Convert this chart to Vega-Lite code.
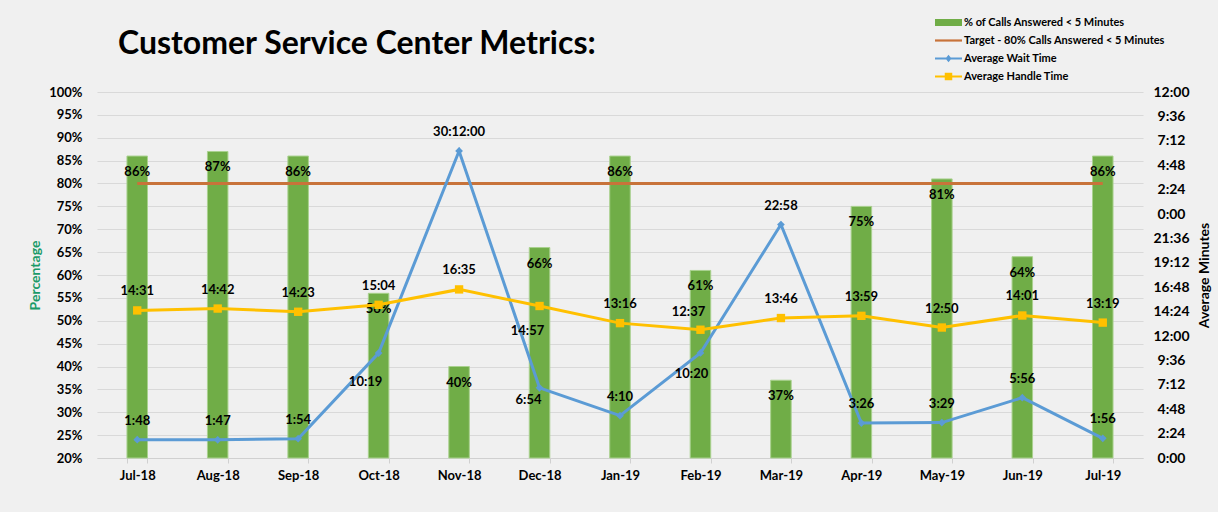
{
  "$schema": "https://vega.github.io/schema/vega-lite/v6.json",
  "width": 1046,
  "height": 366,
  "autosize": "none",
  "padding": {"left": 97, "top": 92, "right": 75, "bottom": 54},
  "background": "#f0f0f0",
  "title": {
    "text": "Customer Service Center Metrics:",
    "anchor": "start",
    "frame": "group",
    "dx": 21,
    "dy": 107,
    "offset": 38,
    "baseline": "alphabetic",
    "font": "Lato",
    "fontSize": 32,
    "fontWeight": "bold",
    "color": "#000000"
  },
  "config": {
    "view": {"stroke": null},
    "font": "Lato",
    "text": {"font": "Lato", "fontWeight": "bold", "fontSize": 13, "color": "#000000"}
  },
  "data": {
    "values": [
      {"month": "Jul-18", "pct": 0.86, "target": 0.8, "wait": 1.8, "waitLabel": "1:48", "handle": 14.5167, "handleLabel": "14:31"},
      {"month": "Aug-18", "pct": 0.87, "target": 0.8, "wait": 1.7833, "waitLabel": "1:47", "handle": 14.7, "handleLabel": "14:42"},
      {"month": "Sep-18", "pct": 0.86, "target": 0.8, "wait": 1.9, "waitLabel": "1:54", "handle": 14.3833, "handleLabel": "14:23"},
      {"month": "Oct-18", "pct": 0.56, "target": 0.8, "wait": 10.3167, "waitLabel": "10:19", "handle": 15.0667, "handleLabel": "15:04"},
      {"month": "Nov-18", "pct": 0.40, "target": 0.8, "wait": 30.2, "waitLabel": "30:12:00", "handle": 16.5833, "handleLabel": "16:35"},
      {"month": "Dec-18", "pct": 0.66, "target": 0.8, "wait": 6.9, "waitLabel": "6:54", "handle": 14.95, "handleLabel": "14:57"},
      {"month": "Jan-19", "pct": 0.86, "target": 0.8, "wait": 4.1667, "waitLabel": "4:10", "handle": 13.2667, "handleLabel": "13:16"},
      {"month": "Feb-19", "pct": 0.61, "target": 0.8, "wait": 10.3333, "waitLabel": "10:20", "handle": 12.6167, "handleLabel": "12:37"},
      {"month": "Mar-19", "pct": 0.37, "target": 0.8, "wait": 22.9667, "waitLabel": "22:58", "handle": 13.7667, "handleLabel": "13:46"},
      {"month": "Apr-19", "pct": 0.75, "target": 0.8, "wait": 3.4333, "waitLabel": "3:26", "handle": 13.9833, "handleLabel": "13:59"},
      {"month": "May-19", "pct": 0.81, "target": 0.8, "wait": 3.4833, "waitLabel": "3:29", "handle": 12.8333, "handleLabel": "12:50"},
      {"month": "Jun-19", "pct": 0.64, "target": 0.8, "wait": 5.9333, "waitLabel": "5:56", "handle": 14.0167, "handleLabel": "14:01"},
      {"month": "Jul-19", "pct": 0.86, "target": 0.8, "wait": 1.9333, "waitLabel": "1:56", "handle": 13.3167, "handleLabel": "13:19"}
    ]
  },
  "encoding": {
    "x": {
      "field": "month",
      "type": "ordinal",
      "sort": null,
      "scale": {"paddingInner": 0.745, "paddingOuter": 0.3725},
      "axis": {
        "title": null,
        "labelAngle": 0,
        "labelFont": "Lato",
        "labelFontWeight": "bold",
        "labelFontSize": 13,
        "labelColor": "#000000",
        "labelPadding": 6,
        "tickBand": "extent",
        "tickSize": 5,
        "tickColor": "#d0d0d0",
        "domainColor": "#d0d0d0",
        "grid": false
      }
    }
  },
  "layer": [
    {
      "encoding": {
        "y": {
          "type": "quantitative",
          "scale": {"domain": [0.2, 1], "nice": false, "zero": false},
          "axis": {
            "orient": "left",
            "title": "Percentage",
            "titleColor": "#1a9a68",
            "titleFont": "Lato",
            "titleFontWeight": "bold",
            "titleFontSize": 14,
            "titlePadding": 6,
            "values": [0.2, 0.25, 0.3, 0.35, 0.4, 0.45, 0.5, 0.55, 0.6, 0.65, 0.7, 0.75, 0.8, 0.85, 0.9, 0.95, 1],
            "format": ".0%",
            "labelFont": "Lato",
            "labelFontWeight": "bold",
            "labelFontSize": 13,
            "labelColor": "#000000",
            "labelPadding": 15,
            "grid": true,
            "gridColor": "#d9d9d9",
            "domain": false,
            "ticks": false
          }
        }
      },
      "layer": [
        {
          "mark": {"type": "bar", "stroke": "#a9d18e", "strokeWidth": 1},
          "encoding": {
            "y": {"field": "pct"},
            "y2": {"datum": 0.2},
            "color": {
              "datum": "% of Calls Answered < 5 Minutes",
              "scale": {
                "domain": ["% of Calls Answered < 5 Minutes", "Target - 80% Calls Answered < 5 Minutes", "Average Wait Time", "Average Handle Time"],
                "range": ["#70ad47", "#c8733a", "#5b9bd5", "#ffc000"]
              },
              "legend": {
                "title": null,
                "orient": "none",
                "legendX": 846,
                "legendY": -75,
                "padding": 0,
                "rowPadding": 6,
                "symbolSize": 100,
                "labelOffset": 10,
                "labelLimit": 400,
                "labelFont": "Lato",
                "labelFontWeight": "bold",
                "labelFontSize": 11,
                "labelColor": "#000000",
                "symbolType": {"expr": "datum.index === 0 ? 'M-2.7,-0.7H2.7V0.7H-2.7Z' : datum.index === 1 ? 'M-2.7,-0.22H2.7V0.22H-2.7Z' : datum.index === 2 ? 'M-2.7,-0.2H2.7V0.2H-2.7Z M0,-0.75L0.6,0L0,0.75L-0.6,0Z' : 'M-2.7,-0.2H2.7V0.2H-2.7Z M-0.75,-0.75H0.75V0.75H-0.75Z'"},
                "symbolStrokeWidth": 0,
                "symbolOpacity": 1
              }
            }
          }
        },
        {
          "mark": {"type": "line", "strokeWidth": 3},
          "encoding": {
            "y": {"field": "target"},
            "color": {"datum": "Target - 80% Calls Answered < 5 Minutes"}
          }
        },
        {
          "mark": {"type": "text", "dy": 16, "baseline": "middle"},
          "encoding": {
            "y": {"field": "pct"},
            "text": {"field": "pct", "type": "quantitative", "format": ".0%"}
          }
        }
      ]
    },
    {
      "encoding": {
        "y": {
          "type": "quantitative",
          "scale": {"domain": [0, 36], "nice": false, "zero": true},
          "axis": {
            "orient": "right",
            "title": "Average Minutes",
            "titleAngle": 270,
            "titleColor": "#000000",
            "titleFont": "Lato",
            "titleFontWeight": "bold",
            "titleFontSize": 14,
            "titlePadding": 22,
            "values": [0, 2.4, 4.8, 7.2, 9.6, 12, 14.4, 16.8, 19.2, 21.6, 24, 26.4, 28.8, 31.2, 33.6, 36],
            "labelExpr": "floor((round(datum.value*60) % 1440)/60) + ':' + ((round(datum.value*60) % 60) < 10 ? '0' : '') + (round(datum.value*60) % 60)",
            "labelFont": "Lato",
            "labelFontWeight": "bold",
            "labelFontSize": 14,
            "labelColor": "#000000",
            "labelAlign": "center",
            "labelPadding": 28,
            "grid": false,
            "domain": false,
            "ticks": false
          }
        }
      },
      "layer": [
        {
          "mark": {"type": "line", "strokeWidth": 3, "point": {"shape": "diamond", "size": 60, "filled": true}},
          "encoding": {
            "y": {"field": "wait"},
            "color": {"datum": "Average Wait Time"}
          }
        },
        {
          "mark": {"type": "line", "strokeWidth": 3, "point": {"shape": "square", "size": 70, "filled": true}},
          "encoding": {
            "y": {"field": "handle"},
            "color": {"datum": "Average Handle Time"}
          }
        },
        {
          "transform": [{"filter": "indexof(['Oct-18','Dec-18','Feb-19'], datum.month) < 0"}],
          "mark": {"type": "text", "dy": -19, "baseline": "middle"},
          "encoding": {"y": {"field": "wait"}, "text": {"field": "waitLabel"}}
        },
        {
          "transform": [{"filter": "datum.month === 'Oct-18'"}],
          "mark": {"type": "text", "dy": 29, "dx": -13, "baseline": "middle"},
          "encoding": {"y": {"field": "wait"}, "text": {"field": "waitLabel"}}
        },
        {
          "transform": [{"filter": "datum.month === 'Dec-18'"}],
          "mark": {"type": "text", "dy": 12, "dx": -11, "baseline": "middle"},
          "encoding": {"y": {"field": "wait"}, "text": {"field": "waitLabel"}}
        },
        {
          "transform": [{"filter": "datum.month === 'Feb-19'"}],
          "mark": {"type": "text", "dy": 21, "dx": -9, "baseline": "middle"},
          "encoding": {"y": {"field": "wait"}, "text": {"field": "waitLabel"}}
        },
        {
          "transform": [{"filter": "indexof(['Dec-18','Feb-19'], datum.month) < 0"}],
          "mark": {"type": "text", "dy": -19, "baseline": "middle"},
          "encoding": {"y": {"field": "handle"}, "text": {"field": "handleLabel"}}
        },
        {
          "transform": [{"filter": "datum.month === 'Dec-18'"}],
          "mark": {"type": "text", "dy": 25, "dx": -12, "baseline": "middle"},
          "encoding": {"y": {"field": "handle"}, "text": {"field": "handleLabel"}}
        },
        {
          "transform": [{"filter": "datum.month === 'Feb-19'"}],
          "mark": {"type": "text", "dy": -18, "dx": -12, "baseline": "middle"},
          "encoding": {"y": {"field": "handle"}, "text": {"field": "handleLabel"}}
        }
      ]
    }
  ],
  "resolve": {"scale": {"y": "independent"}}
}
